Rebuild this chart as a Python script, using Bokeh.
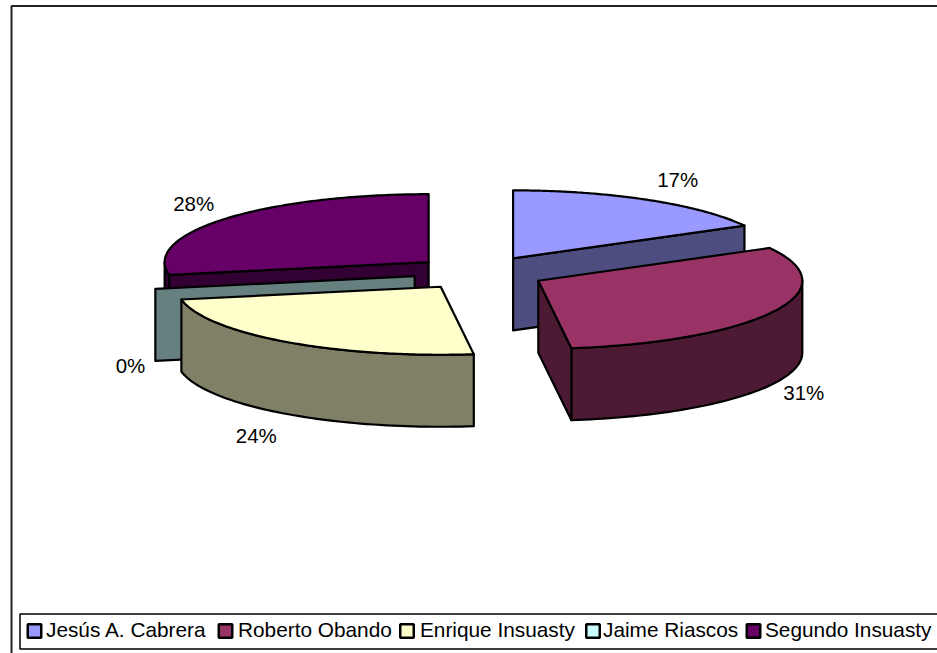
import numpy as np
from bokeh.plotting import figure
from bokeh.models import Range1d
from bokeh.core.properties import value
from bokeh.embed import file_html
from bokeh.resources import INLINE

# --- data ---
names = ["Jesús A. Cabrera", "Roberto Obando", "Enrique Insuasty", "Jaime Riascos", "Segundo Insuasty"]
shares = [17, 31, 24, 0, 28]
labels = ["17%", "31%", "24%", "0%", "28%"]

# --- styles ---
top_colors = ["#9999FF", "#993366", "#FFFFCC", "#CCFFFF", "#660066"]
side_colors = ["#4D4D80", "#4D1A33", "#808066", "#668080", "#330033"]
FONT = "Liberation Sans"
FS = "20.5px"
LEGEND_FS = "20.8px"

# --- projection of the pie, in page pixels ---
CX, CY = 479.0, 272.5
RX, RY = 264.0, 68.0
EXPLODE = 0.25
DEPTH = 72.0
label_nudge = [(10, -3), (-5, 0), (-6, 5), (14, 1), (-1, -2)]
legend_marker_x = [34, 225, 406.5, 592.5, 753]
legend_text_x = [45.5, 237.5, 419.5, 602.5, 764.5]

p = figure(width=937, height=653, toolbar_location=None, output_backend="svg",
           x_range=Range1d(0, 937), y_range=Range1d(653, 0),
           min_border=0, outline_line_color=None, background_fill_color="white",
           styles={"position": "absolute", "left": "0px", "top": "0px"})
p.axis.visible = False
p.grid.visible = False


def poly(xs, ys, color):
    p.patch(list(xs), list(ys), fill_color=color, line_color="black", line_width=2.2, line_join="round")


fractions = np.array(shares) / sum(shares)
edges = np.concatenate([[0], np.cumsum(fractions)]) * 2 * np.pi
mids = (edges[:-1] + edges[1:]) / 2
apex_x = CX + EXPLODE * RX * np.sin(mids)
apex_y = CY - EXPLODE * RY * np.cos(mids)

for i in np.argsort(apex_y):
    t0, t1 = edges[i], edges[i + 1]
    ax, ay = apex_x[i], apex_y[i]
    rim = lambda t: (ax + RX * np.sin(t), ay - RY * np.cos(t))

    # outer side: only the part facing the viewer
    lo, hi = max(t0, np.pi / 2), min(t1, 3 * np.pi / 2)
    if hi > lo:
        ts = np.linspace(lo, hi, 60)
        rx, ry = rim(ts)
        poly(np.r_[rx, rx[::-1]], np.r_[ry, ry[::-1] + DEPTH], side_colors[i])

    # cut faces: a face shows when it turns towards the viewer
    for t, visible in ((t0, np.sin(t0) < -1e-6), (t1, np.sin(t1) > 1e-6)):
        if visible:
            ex, ey = rim(t)
            poly([ax, ex, ex, ax], [ay, ey, ey + DEPTH, ay + DEPTH], side_colors[i])

    # top
    if t1 > t0:
        ts = np.linspace(t0, t1, 120)
        rx, ry = rim(ts)
        poly(np.r_[ax, rx], np.r_[ay, ry], top_colors[i])

# percentage labels
lx = CX + 1.4 * RX * np.sin(mids) + np.array([n[0] for n in label_nudge])
ly = CY - 1.55 * RY * np.cos(mids) + np.where(np.cos(mids) < 0, DEPTH, 0) + np.array([n[1] for n in label_nudge])
p.text(lx, ly, text=labels, text_font=value(FONT), text_font_size=value(FS),
       text_align="center", text_baseline="middle", text_color="black")

# chart frame and legend frame (both open to the right, as in the source)
p.line([937, 11, 11], [5.5, 5.5, 653], line_color="#222222", line_width=2)
p.line([937, 19.5, 19.5, 937], [613.5, 613.5, 648.5, 648.5], line_color="black", line_width=1.5)

# legend
p.rect(legend_marker_x, [630.5] * 5, width=13.5, height=13.5, fill_color=top_colors, line_color="black", line_width=2.5)
p.text(legend_text_x, [629] * 5, text=names, text_font=value(FONT), text_font_size=value(LEGEND_FS),
       text_align="left", text_baseline="middle", text_color="black")

open("out.html", "w").write(file_html(p, INLINE))
